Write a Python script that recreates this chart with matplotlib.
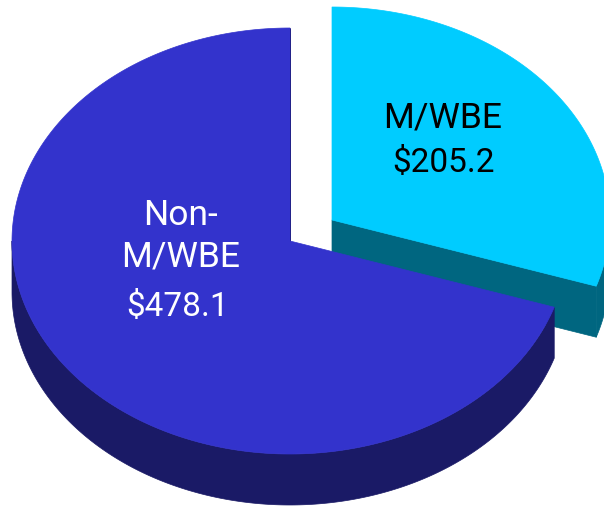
import numpy as np
import matplotlib.pyplot as plt
from matplotlib.patches import Polygon

labels = ["M/WBE", "Non-\nM/WBE"]
values = [205.2, 478.1]
value_labels = ["$205.2", "$478.1"]

plt.rcParams["font.family"] = ["Roboto", "DejaVu Sans"]

RX, RY, DEPTH = 278, 213, 51
TOP_COLORS = ["#00CCFF", "#3333CC"]
SIDE_COLORS = ["#006680", "#1A1A66"]
CENTERS = [(332, 220), (290, 241)]


def arc(cx, cy, a0, a1, n=300):
    t = np.radians(np.linspace(a0, a1, n))
    return np.column_stack([cx + RX * np.cos(t), cy - RY * np.sin(t)])


def draw_slice(ax, center, a0, a1, top, side):
    cx, cy = center
    # outer wall, only the part facing the viewer (sin < 0)
    lo, hi = max(a0, -180), min(a1, 0)
    if lo < hi:
        edge = arc(cx, cy, lo, hi)
        wall = np.vstack([edge, edge[::-1] + [0, DEPTH]])
        ax.add_patch(Polygon(wall, closed=True, fc=side, ec=side, lw=0.5))
    # cut wall at the slice start
    pts = arc(cx, cy, a0, a0, 1)
    cut = np.array([[cx, cy], pts[0], pts[0] + [0, DEPTH], [cx, cy + DEPTH]])
    ax.add_patch(Polygon(cut, closed=True, fc=side, ec=side, lw=0.5))
    face = np.vstack([[cx, cy], arc(cx, cy, a0, a1)])
    ax.add_patch(Polygon(face, closed=True, fc=top, ec=top, lw=0.5))


fig = plt.figure(figsize=(6.04, 5.07), dpi=100)
ax = fig.add_axes([0, 0, 1, 1])
ax.set_xlim(0, 604)
ax.set_ylim(507, 0)
ax.axis("off")

split = 90 - values[0] / sum(values) * 360
# the big slice sits in front of the pulled-out one
draw_slice(ax, CENTERS[0], split, 90, TOP_COLORS[0], SIDE_COLORS[0])
draw_slice(ax, CENTERS[1], split - 360 * values[1] / sum(values), split, TOP_COLORS[1], SIDE_COLORS[1])

ax.text(443, 118, labels[0], color="black", fontsize=25.5, ha="center", va="center")
ax.text(444, 163, value_labels[0], color="black", fontsize=24, ha="center", va="center")
ax.text(181, 236, labels[1], color="white", fontsize=25.5, ha="center", va="center", linespacing=1.33)
ax.text(178, 307, value_labels[1], color="white", fontsize=24, ha="center", va="center")

fig.savefig("out.png", dpi=100)
